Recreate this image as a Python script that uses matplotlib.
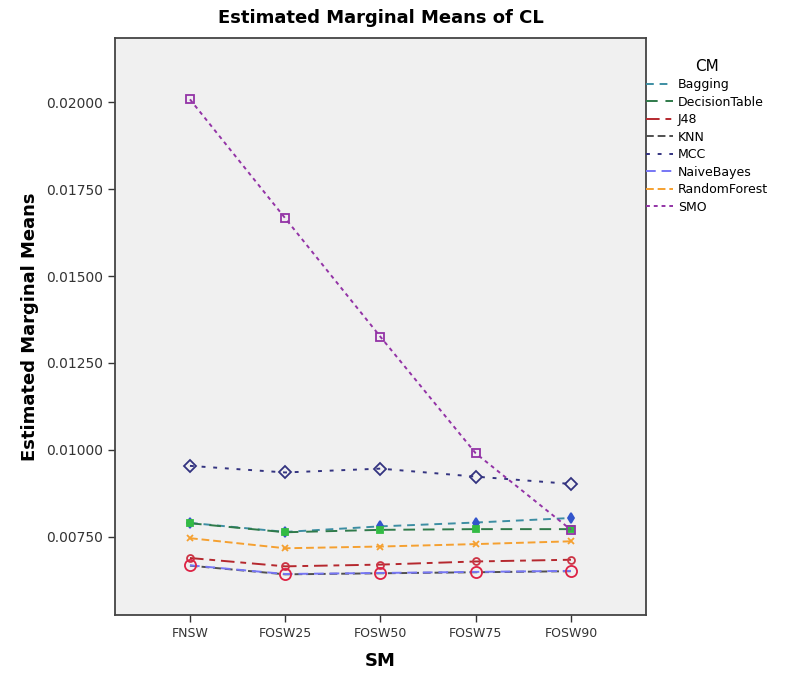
import numpy as np
import matplotlib.pyplot as plt
from matplotlib.lines import Line2D

# x categories (SM)
sm = ['FNSW', 'FOSW25', 'FOSW50', 'FOSW75', 'FOSW90']

# estimated marginal means of CL per classifier (CM)
bagging = [0.00790, 0.00764, 0.00780, 0.00791, 0.00804]
decision_table = [0.00789, 0.00763, 0.00770, 0.00772, 0.00772]
j48 = [0.00689, 0.00665, 0.00670, 0.00679, 0.00684]
knn = [0.00667, 0.00642, 0.00645, 0.00648, 0.00651]
mcc = [0.00954, 0.00935, 0.00946, 0.00923, 0.00902]
naive_bayes = [0.00668, 0.00643, 0.00646, 0.00649, 0.00652]
random_forest = [0.00746, 0.00717, 0.00722, 0.00729, 0.00737]
smo = [0.02008, 0.01666, 0.01325, 0.00990, 0.00770]

names = ['Bagging', 'DecisionTable', 'J48', 'KNN', 'MCC', 'NaiveBayes', 'RandomForest', 'SMO']
series = [bagging, decision_table, j48, knn, mcc, naive_bayes, random_forest, smo]
colors = ['#3d8ea3', '#2f7a4a', '#b5282e', '#505050', '#333380', '#7676f5', '#f5a030', '#9333a6']
styles = [(0, (4, 3)), (0, (6, 4)), (0, (7, 3, 3, 3)), (0, (4, 2)), (0, (2, 4)),
          (0, (5, 3)), (0, (4, 2)), (0, (2, 2))]
markers = ['d', 's', 'o', '', 'D', 'o', 'x', 's']
mcolors = ['#3355cc', '#33bb44', '#cc3344', '#505050', '#333380', '#dd2244', '#f5a030', '#9333a6']
msizes = [5, 4, 5, 0, 6, 8, 4, 6]
mfill = ['full', 'full', 'none', 'none', 'none', 'none', 'full', 'none']

plt.rcParams['font.family'] = ['DejaVu Sans']
fig = plt.figure(figsize=(7.87, 6.76), dpi=100)
ax = fig.add_axes([0.1461, 0.0902, 0.6747, 0.8536])
ax.set_facecolor('#f0f0f0')

x = np.arange(len(sm))
for vals, name, c, ls, mk, mc, ms, mf in zip(series, names, colors, styles, markers, mcolors, msizes, mfill):
    ax.plot(x, vals, color=c, linestyle=ls, linewidth=1.4, marker=mk if mk else None,
            markersize=ms, markeredgecolor=mc, markerfacecolor=mc if mf == 'full' else 'none',
            markeredgewidth=1.3)

ax.set_xlim(-0.787, 4.787)
ax.set_ylim(0.00525, 0.021845)
ax.set_xticks(x)
ax.set_xticklabels(sm, fontsize=9, color='#333333')
yt = [0.0075, 0.01, 0.0125, 0.015, 0.0175, 0.02]
ax.set_yticks(yt)
ax.set_yticklabels(['%.5f' % v for v in yt], fontsize=10, color='#333333')
ax.tick_params(length=5, width=1, color='#333333')
for s in ax.spines.values():
    s.set_color('#444444')
    s.set_linewidth(1.3)

ax.set_xlabel('SM', fontsize=13, fontweight='bold', labelpad=9)
ax.set_ylabel('Estimated Marginal Means', fontsize=13, fontweight='bold', labelpad=5)
ax.set_title('Estimated Marginal Means of CL', fontsize=13, fontweight='bold', pad=11)

handles = [Line2D([0], [0], color=c, linestyle=ls, linewidth=1.4) for c, ls in zip(colors, styles)]
leg = fig.legend(handles, names, title='CM', loc='upper left', bbox_to_anchor=(0.806, 0.93),
                 frameon=False, fontsize=9, title_fontsize=11, handlelength=2.2,
                 handletextpad=0.4, labelspacing=0.36)

fig.savefig('out.png', dpi=100, facecolor='white')
